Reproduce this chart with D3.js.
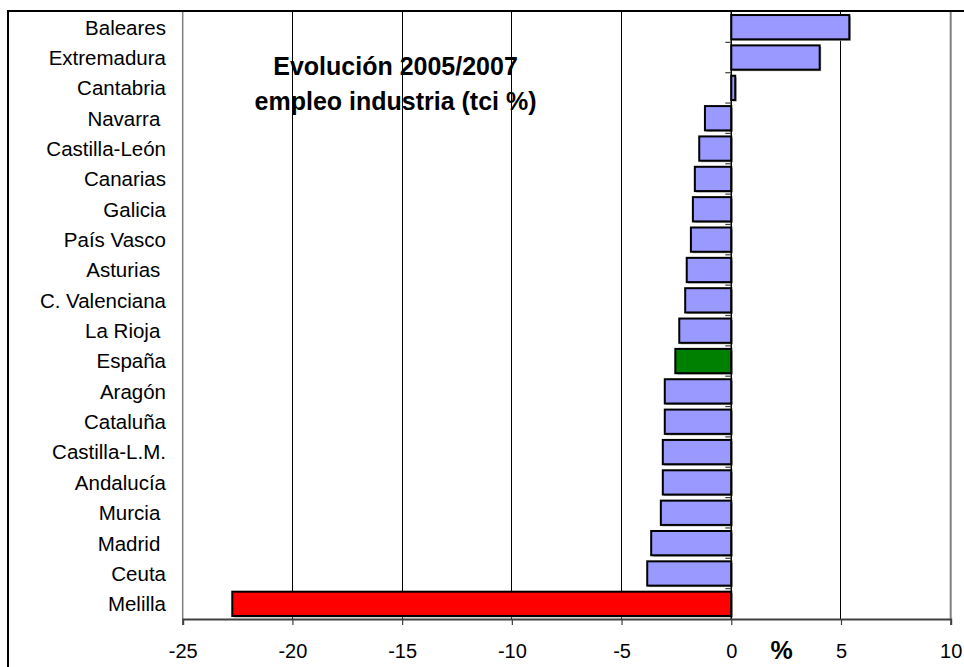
<!DOCTYPE html>
<html><head><meta charset="utf-8">
<script src="https://cdn.jsdelivr.net/npm/d3@7"></script>
<style>
html,body{margin:0;padding:0;background:#fff;}
svg text{font-family:"Liberation Sans",Arial,sans-serif;}
</style></head>
<body>
<svg id="chart" width="964" height="667"></svg>
<script>
const categories = ["Baleares","Extremadura","Cantabria","Navarra ","Castilla-León","Canarias","Galicia","País Vasco","Asturias ","C. Valenciana","La Rioja ","España","Aragón","Cataluña","Castilla-L.M.","Andalucía","Murcia ","Madrid ","Ceuta","Melilla"];
const values = [5.38,4.03,0.18,-1.2,-1.46,-1.66,-1.75,-1.84,-2.03,-2.1,-2.37,-2.55,-3.03,-3.03,-3.12,-3.12,-3.21,-3.65,-3.83,-22.74];
const xTicks = [-25,-20,-15,-10,-5,0,5,10];
const titleLines = ["Evolución 2005/2007","empleo industria (tci %)"];
const axisUnit = "%";
const special = {"España":"#008000","Melilla":"#FF0000"};
const baseColor = "#9999FF";

const svg = d3.select("#chart");
const pL = 182.7, pR = 950.7, pT = 12, pB = 619;

const x = d3.scaleLinear().domain([-25,10]).range([pL,pR]);
const y = d3.scaleBand().domain(categories).range([pT,pB]).paddingInner(0.2).paddingOuter(0.1);
const step = y.step();

// outer border
svg.append("rect").attr("x",8).attr("y",11).attr("width",1000).attr("height",700)
  .attr("fill","none").attr("stroke","#000").attr("stroke-width",2);

// gridlines
svg.append("g").selectAll("line").data(xTicks.filter(t=>t>-25 && t<10 && t!==0)).join("line")
  .attr("x1",d=>x(d)).attr("x2",d=>x(d)).attr("y1",pT).attr("y2",pB)
  .attr("stroke","#000").attr("stroke-width",1).attr("shape-rendering","crispEdges");
// plot borders left/right gray
svg.append("line").attr("x1",pL).attr("x2",pL).attr("y1",pT).attr("y2",pB).attr("stroke","#808080").attr("stroke-width",1.5);
svg.append("line").attr("x1",pR).attr("x2",pR).attr("y1",pT).attr("y2",pB).attr("stroke","#808080").attr("stroke-width",2);

// bars
const rows = categories.map((c,i)=>({c, v:values[i]}));
const bars = svg.append("g");
bars.selectAll("rect.sh").data(rows).join("rect").attr("class","sh")
  .attr("x",d=>Math.min(x(0),x(d.v))+1.5).attr("y",d=>y(d.c)+1.5)
  .attr("width",d=>Math.abs(x(d.v)-x(0))).attr("height",y.bandwidth())
  .attr("fill","#a0a0a0");
bars.selectAll("rect.b").data(rows).join("rect").attr("class","b")
  .attr("x",d=>Math.min(x(0),x(d.v))).attr("y",d=>y(d.c))
  .attr("width",d=>Math.abs(x(d.v)-x(0))).attr("height",y.bandwidth())
  .attr("fill",d=>special[d.c.trim()]||baseColor)
  .attr("stroke","#000").attr("stroke-width",2);

// vertical axis at 0
svg.append("line").attr("x1",x(0)).attr("x2",x(0)).attr("y1",pT).attr("y2",pB).attr("stroke","#000").attr("stroke-width",1.5);
svg.append("g").selectAll("line").data(d3.range(1,categories.length)).join("line")
  .attr("x1",x(0)-6).attr("x2",x(0)).attr("y1",i=>pT+i*step).attr("y2",i=>pT+i*step)
  .attr("stroke","#404040").attr("stroke-width",1.2);

// bottom axis
const xAxis = d3.axisBottom(x).tickValues(xTicks).tickSize(6).tickPadding(14).tickFormat(d3.format("d"));
const gx = svg.append("g").attr("transform",`translate(0,${pB})`).call(xAxis);
gx.select(".domain").attr("stroke","#404040").attr("stroke-width",2);
gx.selectAll(".tick line").attr("stroke","#404040").attr("stroke-width",1.2);
gx.selectAll(".tick text").attr("font-size",20).attr("fill","#000")
  .attr("font-family","Liberation Sans, Arial, sans-serif").attr("dy","0").attr("y",39);
gx.selectAll(".tick text").text(d=>d<0?"-"+Math.abs(d):String(d));

// category labels
svg.append("g").selectAll("text").data(categories).join("text")
  .attr("x",166).attr("y",d=>y(d)+y.bandwidth()/2).attr("dy","0.36em")
  .attr("text-anchor","end").attr("font-size",20.5).style("white-space","pre")
  .text(d=>d);

// title
svg.append("g").selectAll("text").data(titleLines).join("text")
  .attr("x",x(-15.3)).attr("y",(d,i)=>75+i*35).attr("text-anchor","middle")
  .attr("font-size",25).attr("font-weight","bold").text(d=>d);

// unit label
svg.append("text").attr("x",x(2.3)).attr("y",659).attr("text-anchor","middle")
  .attr("font-size",25).attr("font-weight","bold").text(axisUnit);
</script>
</body></html>
